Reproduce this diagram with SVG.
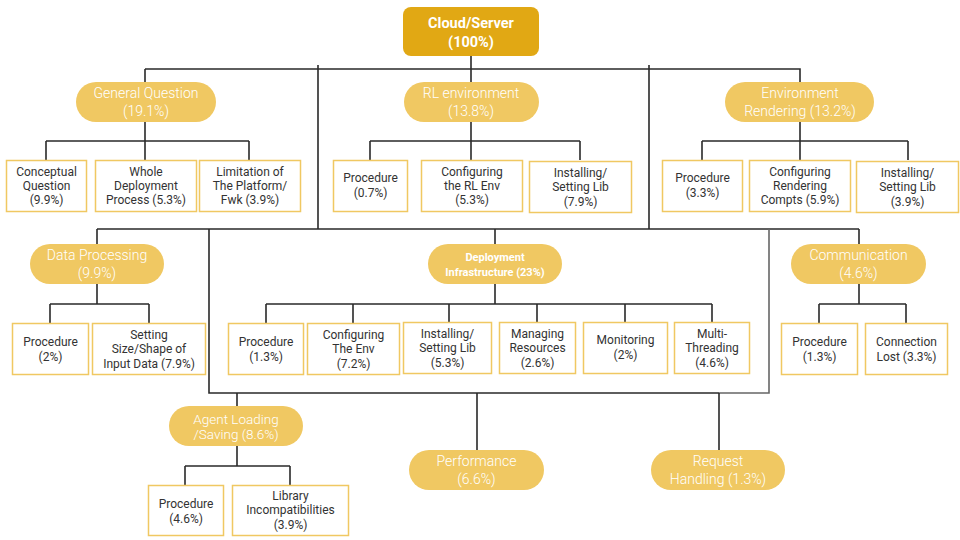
<svg xmlns="http://www.w3.org/2000/svg" width="960" height="540" viewBox="0 0 960 540">
<style>
.bg{fill:#ffffff}
.root{fill:#E1A814}
.pill{fill:#F0C862}
.box{fill:#ffffff;stroke:#F0C862;stroke-width:1.5}
.ln{fill:none;stroke:#2a2a2a;stroke-width:1.6}
.lg{fill:none;stroke:#666;stroke-width:1.6}
text{font-family:Roboto,"Liberation Sans",sans-serif;text-anchor:middle}
.rt{fill:#fff;font-size:14.5px;font-weight:bold}
.pt{fill:#fff;font-size:14px;font-weight:300}
.pa{fill:#fff;font-size:13.5px;font-weight:300}
.pb{fill:#fff;font-size:11px;font-weight:bold}
.bt{fill:#333;font-size:12px}
</style>
<rect class="bg" width="960" height="540"/>
<g id="connectors">
<path class="ln" d="M471 55 V82 M145 69 H800 V82 M145 69 V82"/>
<path class="ln" d="M318 65 V229 M649 65 V229"/>
<path class="ln" d="M97 229 H859 M97 229 V244 M859 229 V244 M495 229 V244"/>
<path class="ln" d="M209 229 V393 H719"/>
<path class="lg" d="M769 229 V393 H719"/>
<path class="ln" d="M237 393 V406 M477 393 V450 M719 393 V450"/>
<path class="ln" d="M145 122 V141 M46 141 H249 M46 141 V160 M145 141 V160 M249 141 V160"/>
<path class="ln" d="M471 122 V160 M370 141 H580 M370 141 V160 M580 141 V160"/>
<path class="ln" d="M800 122 V160 M702 141 H908 M702 141 V160 M908 141 V160"/>
<path class="ln" d="M97 284 V304 M50 304 H149 M50 304 V323 M149 304 V323"/>
<path class="ln" d="M495 284 V304 M266 304 H712 M266 304 V323 M353 304 V323 M449 304 V322 M537 304 V322 M625 304 V322 M712 304 V322"/>
<path class="ln" d="M859 284 V304 M819 304 H906 M819 304 V323 M906 304 V323"/>
<path class="ln" d="M237 446 V466 M185 466 H290 M185 466 V485 M290 466 V485"/>
</g>
<g id="root">
<rect class="root" x="403" y="7" width="136" height="49" rx="8"/>
<text class="rt" x="471" y="28">Cloud/Server</text>
<text class="rt" x="471" y="47">(100%)</text>
</g>
<g id="general-question">
<rect class="pill" x="76" y="82" width="140" height="40" rx="20"/>
<text class="pt" x="146" y="98">General Question</text>
<text class="pt" x="146" y="115.5">(19.1%)</text>
</g>
<g id="gq-conceptual">
<rect class="box" x="6.5" y="160.5" width="80" height="51"/>
<text class="bt" x="46.5" y="175.5">Conceptual</text>
<text class="bt" x="46.5" y="189.5">Question</text>
<text class="bt" x="46.5" y="204">(9.9%)</text>
</g>
<g id="gq-whole">
<rect class="box" x="95.5" y="160.5" width="101" height="51"/>
<text class="bt" x="146" y="175.5">Whole</text>
<text class="bt" x="146" y="189.5">Deployment</text>
<text class="bt" x="146" y="204">Process (5.3%)</text>
</g>
<g id="gq-limitation">
<rect class="box" x="199.5" y="160.5" width="101" height="51"/>
<text class="bt" x="250" y="175.5">Limitation of</text>
<text class="bt" x="250" y="189.5">The Platform/</text>
<text class="bt" x="250" y="204">Fwk (3.9%)</text>
</g>
<g id="rl-environment">
<rect class="pill" x="404" y="82" width="135" height="40" rx="20"/>
<text class="pt" x="471" y="98">RL environment</text>
<text class="pt" x="471" y="115.5">(13.8%)</text>
</g>
<g id="rl-procedure">
<rect class="box" x="333.5" y="160.5" width="74" height="51"/>
<text class="bt" x="370.5" y="182">Procedure</text>
<text class="bt" x="370.5" y="197">(0.7%)</text>
</g>
<g id="rl-configuring">
<rect class="box" x="421.5" y="160.5" width="101" height="51"/>
<text class="bt" x="472" y="175.5">Configuring</text>
<text class="bt" x="472" y="189.5">the RL Env</text>
<text class="bt" x="472" y="204">(5.3%)</text>
</g>
<g id="rl-installing">
<rect class="box" x="529.5" y="161.5" width="102" height="51"/>
<text class="bt" x="580.5" y="176.5">Installing/</text>
<text class="bt" x="580.5" y="191">Setting Lib</text>
<text class="bt" x="580.5" y="205.5">(7.9%)</text>
</g>
<g id="environment-rendering">
<rect class="pill" x="725" y="82" width="149" height="40" rx="20"/>
<text class="pt" x="800" y="98">Environment</text>
<text class="pt" x="800" y="115.5">Rendering (13.2%)</text>
</g>
<g id="er-procedure">
<rect class="box" x="662.5" y="160.5" width="80" height="51"/>
<text class="bt" x="702.5" y="181.5">Procedure</text>
<text class="bt" x="702.5" y="197">(3.3%)</text>
</g>
<g id="er-configuring">
<rect class="box" x="749.5" y="160.5" width="101" height="51"/>
<text class="bt" x="800" y="175.5">Configuring</text>
<text class="bt" x="800" y="189.5">Rendering</text>
<text class="bt" x="800" y="204">Compts (5.9%)</text>
</g>
<g id="er-installing">
<rect class="box" x="856.5" y="161.5" width="102" height="51"/>
<text class="bt" x="907.5" y="176.5">Installing/</text>
<text class="bt" x="907.5" y="191">Setting Lib</text>
<text class="bt" x="907.5" y="205.5">(3.9%)</text>
</g>
<g id="data-processing">
<rect class="pill" x="30" y="244" width="134" height="40" rx="20"/>
<text class="pt" x="97" y="260">Data Processing</text>
<text class="pt" x="97" y="277.5">(9.9%)</text>
</g>
<g id="dp-procedure">
<rect class="box" x="12.5" y="323.5" width="76" height="51"/>
<text class="bt" x="50.5" y="345.5">Procedure</text>
<text class="bt" x="50.5" y="360.5">(2%)</text>
</g>
<g id="dp-setting">
<rect class="box" x="92.5" y="323.5" width="113" height="51"/>
<text class="bt" x="149" y="338.5">Setting</text>
<text class="bt" x="149" y="352.5">Size/Shape of</text>
<text class="bt" x="149" y="367.5">Input Data (7.9%)</text>
</g>
<g id="deployment-infrastructure">
<rect class="pill" x="428" y="244" width="134" height="40" rx="20"/>
<text class="pb" x="495" y="261">Deployment</text>
<text class="pb" x="495" y="276">Infrastructure (23%)</text>
</g>
<g id="di-procedure">
<rect class="box" x="228.5" y="323.5" width="75" height="51"/>
<text class="bt" x="266" y="345.5">Procedure</text>
<text class="bt" x="266" y="360.5">(1.3%)</text>
</g>
<g id="di-configuring">
<rect class="box" x="307.5" y="323.5" width="92" height="51"/>
<text class="bt" x="353.5" y="338.5">Configuring</text>
<text class="bt" x="353.5" y="352.5">The Env</text>
<text class="bt" x="353.5" y="367.5">(7.2%)</text>
</g>
<g id="di-installing">
<rect class="box" x="403.5" y="322.5" width="88" height="51"/>
<text class="bt" x="447.5" y="337.5">Installing/</text>
<text class="bt" x="447.5" y="352">Setting Lib</text>
<text class="bt" x="447.5" y="366.5">(5.3%)</text>
</g>
<g id="di-managing">
<rect class="box" x="499.5" y="322.5" width="76" height="51"/>
<text class="bt" x="537.5" y="337.5">Managing</text>
<text class="bt" x="537.5" y="351.5">Resources</text>
<text class="bt" x="537.5" y="366.5">(2.6%)</text>
</g>
<g id="di-monitoring">
<rect class="box" x="583.5" y="322.5" width="84" height="51"/>
<text class="bt" x="625.5" y="343.5">Monitoring</text>
<text class="bt" x="625.5" y="359">(2%)</text>
</g>
<g id="di-multithreading">
<rect class="box" x="674.5" y="322.5" width="75" height="51"/>
<text class="bt" x="712" y="337.5">Multi-</text>
<text class="bt" x="712" y="351.5">Threading</text>
<text class="bt" x="712" y="366.5">(4.6%)</text>
</g>
<g id="communication">
<rect class="pill" x="791" y="244" width="135" height="40" rx="20"/>
<text class="pt" x="858.5" y="260">Communication</text>
<text class="pt" x="858.5" y="277.5">(4.6%)</text>
</g>
<g id="co-procedure">
<rect class="box" x="781.5" y="323.5" width="76" height="51"/>
<text class="bt" x="819.5" y="345.5">Procedure</text>
<text class="bt" x="819.5" y="360.5">(1.3%)</text>
</g>
<g id="co-connection">
<rect class="box" x="865.5" y="323.5" width="82" height="51"/>
<text class="bt" x="906.5" y="345.5">Connection</text>
<text class="bt" x="906.5" y="360.5">Lost (3.3%)</text>
</g>
<g id="agent-loading">
<rect class="pill" x="169" y="406" width="134" height="40" rx="20"/>
<text class="pa" x="236" y="423.5">Agent Loading</text>
<text class="pa" x="236" y="438.5">/Saving (8.6%)</text>
</g>
<g id="al-procedure">
<rect class="box" x="148.5" y="485.5" width="75" height="50"/>
<text class="bt" x="186" y="507.5">Procedure</text>
<text class="bt" x="186" y="522.5">(4.6%)</text>
</g>
<g id="al-library">
<rect class="box" x="232.5" y="485.5" width="116" height="50"/>
<text class="bt" x="290.5" y="499.5">Library</text>
<text class="bt" x="290.5" y="513.5">Incompatibilities</text>
<text class="bt" x="290.5" y="528.5">(3.9%)</text>
</g>
<g id="performance">
<rect class="pill" x="409" y="450" width="135" height="40" rx="20"/>
<text class="pt" x="476.5" y="466">Performance</text>
<text class="pt" x="476.5" y="483.5">(6.6%)</text>
</g>
<g id="request-handling">
<rect class="pill" x="651" y="450" width="134" height="40" rx="20"/>
<text class="pt" x="718" y="466">Request</text>
<text class="pt" x="718" y="483.5">Handling (1.3%)</text>
</g>
</svg>
